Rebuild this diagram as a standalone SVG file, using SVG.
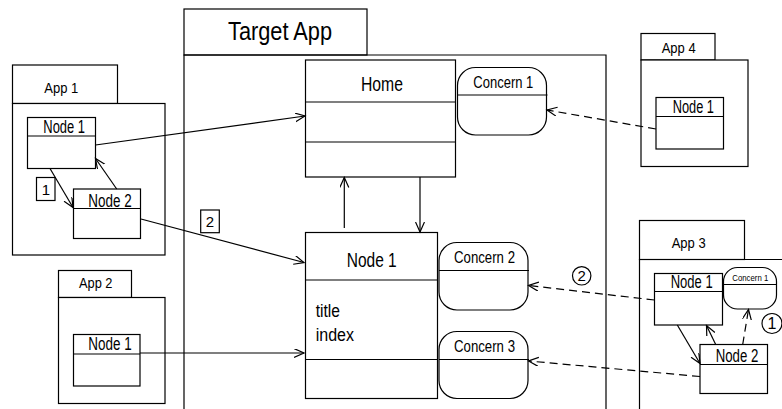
<svg xmlns="http://www.w3.org/2000/svg" width="782" height="409" viewBox="0 0 782 409">
  <style>
    .box { fill: #fff; stroke: #000; stroke-width: 1.2; }
    .ln { fill: none; stroke: #000; stroke-width: 1.2; }
    .t { font-family: "Liberation Sans", Arial, sans-serif; fill: #000; }
    .pk { font-size: 14px; }
    .nd { font-size: 17.5px; }
    .cn { font-size: 16.5px; }
    .c { fill: none; stroke: #000; stroke-width: 1.2; marker-end: url(#arr); }
    .d { stroke-dasharray: 8 5; }
  </style>
  <defs>
    <marker id="arr" markerUnits="userSpaceOnUse" markerWidth="12" markerHeight="10" refX="10" refY="4.5" orient="auto">
      <path d="M0,0 L10,4.5 L0,9" fill="none" stroke="#000" stroke-width="1.2"/>
    </marker>
  </defs>
  <rect width="782" height="409" fill="#fff"/>

  <!-- Target App package -->
  <g id="target-app">
    <rect class="box" x="184" y="9" width="183" height="46"/>
    <polyline class="ln" points="184,409 184,55 606,55 606,409"/>
    <text class="t" x="228" y="39.5" font-size="26" textLength="104" lengthAdjust="spacingAndGlyphs">Target App</text>
  </g>

  <g id="home">
    <rect class="box" x="305.5" y="60" width="150" height="117"/>
    <line class="ln" x1="305.5" y1="102" x2="455.5" y2="102"/>
    <line class="ln" x1="305.5" y1="142" x2="455.5" y2="142"/>
    <text class="t" x="361" y="91" font-size="20" textLength="42" lengthAdjust="spacingAndGlyphs">Home</text>
  </g>

  <g id="target-node1">
    <rect class="box" x="305.5" y="232.5" width="132" height="166"/>
    <line class="ln" x1="305.5" y1="280" x2="437.5" y2="280"/>
    <line class="ln" x1="305.5" y1="359.5" x2="437.5" y2="359.5"/>
    <text class="t" x="346.7" y="267.3" font-size="20" textLength="50" lengthAdjust="spacingAndGlyphs">Node 1</text>
    <text class="t" x="315.7" y="316.7" font-size="17.5" textLength="24.3" lengthAdjust="spacingAndGlyphs">title</text>
    <text class="t" x="315.7" y="341.3" font-size="17.5" textLength="38.3" lengthAdjust="spacingAndGlyphs">index</text>
  </g>

  <g id="concern1">
    <rect class="box" x="457.5" y="67.5" width="89" height="67.5" rx="18"/>
    <line class="ln" x1="457.5" y1="95" x2="547.5" y2="95"/>
    <text class="t cn" x="473.3" y="88.3" textLength="60" lengthAdjust="spacingAndGlyphs">Concern 1</text>
  </g>

  <g id="concern2">
    <rect class="box" x="439" y="242.5" width="89" height="67.5" rx="18"/>
    <line class="ln" x1="439" y1="270.5" x2="529" y2="270.5"/>
    <text class="t cn" x="454" y="263.3" textLength="61" lengthAdjust="spacingAndGlyphs">Concern 2</text>
  </g>

  <g id="concern3">
    <rect class="box" x="439" y="331.5" width="89" height="67" rx="18"/>
    <line class="ln" x1="439" y1="359.5" x2="529" y2="359.5"/>
    <text class="t cn" x="454" y="352.3" textLength="61" lengthAdjust="spacingAndGlyphs">Concern 3</text>
  </g>

  <!-- App 1 -->
  <g id="app1">
    <rect class="box" x="12.5" y="65" width="105" height="38.5"/>
    <rect class="box" x="12.5" y="103.5" width="152.5" height="151.5"/>
    <text class="t pk" x="44.3" y="93" textLength="34" lengthAdjust="spacingAndGlyphs">App 1</text>
  </g>
  <g id="app1-node1">
    <rect class="box" x="27.5" y="117.5" width="68" height="51"/>
    <line class="ln" x1="27.5" y1="136" x2="95.5" y2="136"/>
    <text class="t nd" x="43.3" y="133.3" textLength="41.7" lengthAdjust="spacingAndGlyphs">Node 1</text>
  </g>
  <g id="app1-node2">
    <rect class="box" x="73.5" y="189" width="67" height="49.5"/>
    <line class="ln" x1="73.5" y1="208.5" x2="140.5" y2="208.5"/>
    <text class="t nd" x="88.3" y="206.7" textLength="43.3" lengthAdjust="spacingAndGlyphs">Node 2</text>
  </g>
  <g id="label-1">
    <rect class="box" x="36.5" y="177.5" width="18.5" height="23"/>
    <text class="t" x="45.8" y="194.5" font-size="15" text-anchor="middle">1</text>
  </g>
  <g id="label-2">
    <rect class="box" x="200.7" y="210" width="18.6" height="22.7"/>
    <text class="t" x="210" y="227" font-size="15" text-anchor="middle">2</text>
  </g>

  <!-- App 2 -->
  <g id="app2">
    <rect class="box" x="58.5" y="270.5" width="73" height="27"/>
    <rect class="box" x="58.5" y="297.5" width="106.5" height="106"/>
    <text class="t pk" x="79" y="288.3" textLength="33.5" lengthAdjust="spacingAndGlyphs">App 2</text>
  </g>
  <g id="app2-node1">
    <rect class="box" x="73.5" y="334.5" width="66.5" height="51.5"/>
    <line class="ln" x1="73.5" y1="354" x2="140" y2="354"/>
    <text class="t nd" x="88.3" y="350" textLength="43.3" lengthAdjust="spacingAndGlyphs">Node 1</text>
  </g>

  <!-- App 4 -->
  <g id="app4">
    <rect class="box" x="641" y="33.5" width="74" height="26.5"/>
    <rect class="box" x="641" y="60" width="107" height="106.5"/>
    <text class="t pk" x="661.7" y="53.3" textLength="34" lengthAdjust="spacingAndGlyphs">App 4</text>
  </g>
  <g id="app4-node1">
    <rect class="box" x="656" y="97.5" width="67.5" height="51.5"/>
    <line class="ln" x1="656" y1="116.5" x2="723.5" y2="116.5"/>
    <text class="t nd" x="672.7" y="112.7" textLength="41.3" lengthAdjust="spacingAndGlyphs">Node 1</text>
  </g>

  <!-- App 3 -->
  <g id="app3">
    <rect class="box" x="639.5" y="220.5" width="105" height="39"/>
    <polyline class="ln" points="639.5,409 639.5,259.5 782,259.5"/>
    <text class="t pk" x="671.7" y="248.3" textLength="34" lengthAdjust="spacingAndGlyphs">App 3</text>
  </g>
  <g id="app3-node1">
    <rect class="box" x="654.5" y="273.5" width="68" height="51.5"/>
    <line class="ln" x1="654.5" y1="291.5" x2="722.5" y2="291.5"/>
    <text class="t nd" x="670.7" y="288.3" textLength="42" lengthAdjust="spacingAndGlyphs">Node 1</text>
  </g>
  <g id="app3-concern1">
    <rect class="box" x="723.5" y="267.5" width="53" height="41.5" rx="14"/>
    <line class="ln" x1="723.5" y1="284.5" x2="776.5" y2="284.5"/>
    <text class="t" x="732.3" y="281" font-size="9" textLength="36" lengthAdjust="spacingAndGlyphs">Concern 1</text>
  </g>
  <g id="app3-node2">
    <rect class="box" x="700" y="344.5" width="67.5" height="49"/>
    <line class="ln" x1="700" y1="364.5" x2="767.5" y2="364.5"/>
    <text class="t nd" x="715.7" y="361.7" textLength="42.6" lengthAdjust="spacingAndGlyphs">Node 2</text>
  </g>
  <g id="step-2">
    <circle class="box" cx="581.7" cy="275.8" r="9.2"/>
    <text class="t" x="581.7" y="281.3" font-size="15" text-anchor="middle">2</text>
  </g>
  <g id="step-1">
    <circle class="box" cx="772" cy="323.5" r="10"/>
    <text class="t" x="772" y="329.3" font-size="16" text-anchor="middle">1</text>
  </g>

  <!-- connectors -->
  <g id="connectors">
    <line class="c" x1="95.5" y1="145" x2="305" y2="116"/>
    <line class="c" x1="141" y1="219" x2="304" y2="262.5"/>
    <line class="c" x1="140" y1="353" x2="304" y2="353"/>
    <line class="c" x1="50" y1="168.5" x2="73" y2="207.5"/>
    <line class="c" x1="116.7" y1="189" x2="95.5" y2="158.5"/>
    <line class="c" x1="344.3" y1="228" x2="344.3" y2="177.5"/>
    <line class="c" x1="420" y1="177" x2="420" y2="232"/>
    <line class="c d" x1="656" y1="129" x2="547" y2="110"/>
    <line class="c d" x1="654.5" y1="300" x2="528.5" y2="285.5"/>
    <line class="c d" x1="700" y1="376.5" x2="528.5" y2="361"/>
    <line class="c" x1="677.3" y1="325" x2="700" y2="363.5"/>
    <line class="c" x1="715.7" y1="344.5" x2="706.5" y2="325.5"/>
    <line class="c d" x1="742.7" y1="344.5" x2="748.5" y2="309.5"/>
  </g>
</svg>
